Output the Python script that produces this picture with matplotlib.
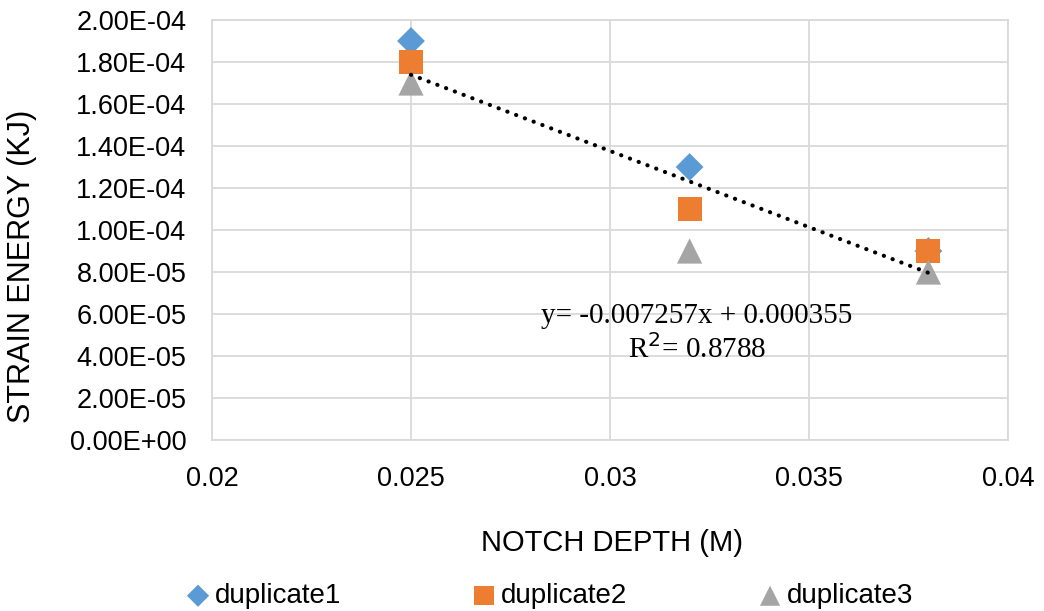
import numpy as np
import matplotlib
matplotlib.use("Agg")
import matplotlib.pyplot as plt
from matplotlib.ticker import FuncFormatter

# Notch depth (m) and strain energy (kJ) for three duplicate tests
notch_depth = [0.025, 0.032, 0.038]
duplicate1 = [1.9e-4, 1.3e-4, 9.0e-5]
duplicate2 = [1.8e-4, 1.1e-4, 9.0e-5]
duplicate3 = [1.7e-4, 9.0e-5, 8.0e-5]

x_ticks = [0.02, 0.025, 0.03, 0.035, 0.04]
x_tick_labels = ["0.02", "0.025", "0.03", "0.035", "0.04"]

plt.rcParams["font.family"] = ["Liberation Sans", "DejaVu Sans"]

W, H = 1044, 611
fig = plt.figure(figsize=(W / 100, H / 100), dpi=100)
ax = fig.add_axes([212 / W, 1 - 440 / H, (1008 - 212) / W, (440 - 20) / H])

grid_c = "#d9d9d9"
ax.set_xlim(0.02, 0.04)
ax.set_ylim(0, 2.0e-4)
ax.set_xticks(x_ticks)
ax.set_xticklabels(x_tick_labels)
ax.set_yticks(np.arange(0, 2.01e-4, 2e-5))
ax.yaxis.set_major_formatter(FuncFormatter(lambda v, p: "%.2E" % v))
ax.grid(True, color=grid_c, linewidth=1.3)
ax.set_axisbelow(True)
for s in ax.spines.values():
    s.set_color(grid_c)
    s.set_linewidth(1.3)
ax.tick_params(axis="both", length=0, labelsize=19.5, colors="#000000")
ax.tick_params(axis="y", pad=18.5)
ax.tick_params(axis="x", pad=19)

ax.scatter(notch_depth, duplicate1, marker="D", s=200, color="#5B9BD5",
           edgecolors="none", zorder=3, label="duplicate1")
ax.scatter(notch_depth, duplicate2, marker="s", s=300, color="#ED7D31",
           edgecolors="none", zorder=4, label="duplicate2")
ax.scatter(notch_depth, duplicate3, marker="^", s=330, color="#A5A5A5",
           edgecolors="none", zorder=5, label="duplicate3")

# Linear trendline through all duplicate points
xs = np.array(notch_depth * 3)
ys = np.array(duplicate1 + duplicate2 + duplicate3)
slope, intercept = np.polyfit(xs, ys, 1)
pred = slope * xs + intercept
r2 = 1 - np.sum((ys - pred) ** 2) / np.sum((ys - ys.mean()) ** 2)
xl = np.array([min(notch_depth), max(notch_depth)])
ax.plot(xl, slope * xl + intercept, color="black", linewidth=3,
        linestyle=(0, (0.05, 2.2)), dash_capstyle="round", zorder=6)

fig.text(697 / W, 1 - 316 / H, "y= %.6fx + %.6f" % (slope, intercept),
         ha="center", va="center", fontsize=21, family="Liberation Serif")
fig.text(697 / W, 1 - 349 / H, "R$^2$= %.4f" % r2,
         ha="center", va="center", fontsize=21, family="Liberation Serif")

fig.text(612 / W, 1 - 543 / H, "NOTCH DEPTH (M)", ha="center", va="center",
         fontsize=21)
fig.text(22 / W, 1 - 266 / H, "STRAIN ENERGY (KJ)", ha="center",
         va="center", rotation=90, fontsize=22)

fig.legend(loc="center", bbox_to_anchor=(550 / W, 1 - 596 / H),
           ncol=3, frameon=False, fontsize=20, handletextpad=0.2,
           columnspacing=4.75, markerscale=0.8, handlelength=0.8)

fig.savefig("out.png", dpi=100)
